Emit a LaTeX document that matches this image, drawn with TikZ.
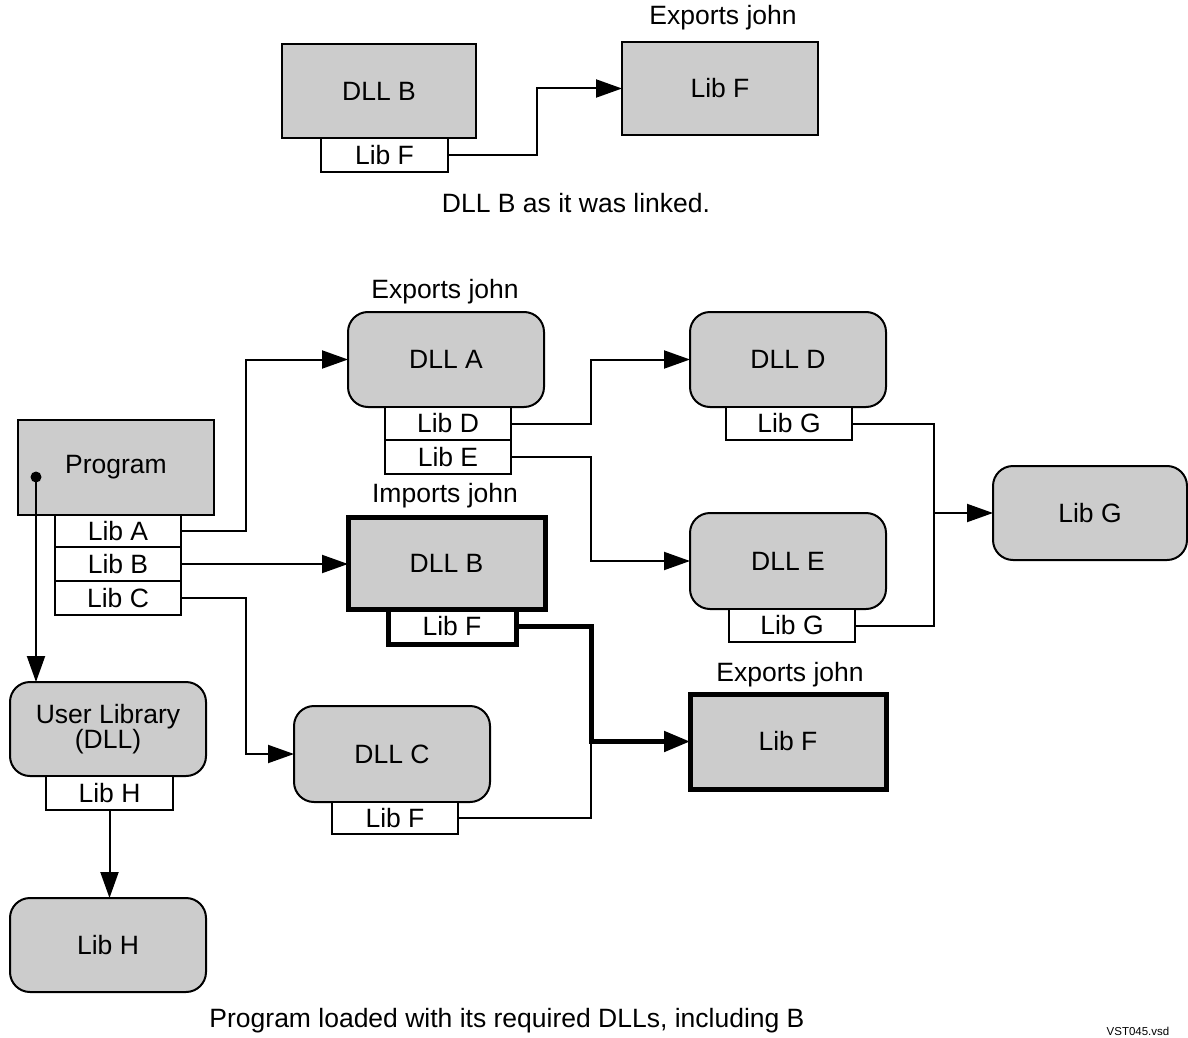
\documentclass[tikz,border=0pt]{standalone}
\usepackage{fontspec}
\setmainfont{Liberation Sans}
\usetikzlibrary{arrows.meta}
\definecolor{boxgray}{RGB}{204,204,204}
\begin{document}
\begin{tikzpicture}[x=1pt,y=-1pt,
  every node/.style={font=\fontsize{26.5}{24}\selectfont, inner sep=0pt, outer sep=0pt},
  gbox/.style={draw, fill=boxgray, line width=2pt, minimum width=196pt, minimum height=94pt},
  rbox/.style={gbox, rounded corners=20pt},
  heavy/.style={line width=5pt},
  lib/.style={draw, fill=white, line width=2pt, minimum width=126pt, minimum height=34pt},
  conn/.style={line width=2pt},
  arr/.style={conn, -{Triangle[length=26pt,width=18pt]}},
  label/.style={},
]
\useasboundingbox (0,0) rectangle (1188,1038);

% ---- DLL B as linked ----
\node[gbox, minimum width=194pt] (tB) at (379,91) {DLL B};
\node[lib, minimum width=127pt] (tLibF) at (384.5,155) {Lib F};
\node[gbox, minimum height=93pt] (tF) at (720,88.5) {Lib F};
\node[label] (tExp) at (723,18) {Exports john};
\node[label] (cap1) at (576,203) {DLL B as it was linked.};
\draw[arr] (tLibF.east) -- ++(89,0) |- (tF.west);

% ---- Program and its DLLs ----
\node[gbox, minimum height=95pt] (prog) at (116,467.5) {Program};
\node[lib, minimum height=32pt] (libA) at (118,531) {Lib A};
\node[lib] (libB) at (118,564) {Lib B};
\node[lib] (libC) at (118,598) {Lib C};

\node[rbox, minimum height=95pt] (dllA) at (446,359.5) {DLL A};
\node[label] (expA) at (445,292) {Exports john};
\node[lib, minimum height=33pt] (libD) at (448,423.5) {Lib D};
\node[lib] (libE) at (448,457) {Lib E};

\node[rbox, minimum height=95pt] (dllD) at (788,359.5) {DLL D};
\node[lib, minimum height=33pt] (libGd) at (789,423.5) {Lib G};

\node[rbox, minimum height=96pt] (dllE) at (788,561) {DLL E};
\node[lib, minimum height=33pt] (libGe) at (792,625.5) {Lib G};

\node[rbox, minimum width=194pt] (libG) at (1090,513) {Lib G};

\node[gbox, heavy, minimum width=197pt, minimum height=92pt] (dllB) at (446.5,563) {DLL B};
\node[label] (impB) at (445,496) {Imports john};
\node[lib, heavy, minimum width=128pt, minimum height=35pt] (libFb) at (452,626.5) {Lib F};

\node[gbox, heavy, minimum height=95pt] (libFx) at (788,741.5) {Lib F};
\node[label] (expF) at (790,675) {Exports john};

\node[rbox, minimum height=96pt] (dllC) at (392,754) {DLL C};
\node[lib, minimum height=32pt] (libFc) at (395,818) {Lib F};

\node[rbox, align=center] (user) at (108,729) {User Library\\(DLL)};
\node[lib, minimum width=127pt] (libHs) at (109.5,793) {Lib H};
\node[rbox] (libH) at (108,945) {Lib H};

\node[label] (cap2) at (507,1021) {Program loaded with its required DLLs, including B};
\node[font=\fontsize{11.5}{13}\selectfont] (fname) at (1138,1031) {VST045.vsd};

% ---- connectors ----
\coordinate (dot) at (36,477);
\fill (dot) circle (5.5pt);
\draw[arr] (dot) -- (dot |- user.north);

\draw[arr] (libA.east) -- ++(65,0) |- (dllA.west);
\draw[arr] (libB.east) -- (libB.east -| dllB.west);
\draw[arr] (libC.east) -- ++(65,0) |- (dllC.west);

\draw[arr] (libD.east) -- ++(80,0) |- (dllD.west);
\draw[arr] (libE.east) -- ++(80,0) |- (dllE.west);

\coordinate (gj) at (934,513);
\draw[conn] (libGd.east) -| (gj) |- (libGe.east);
\draw[arr] (gj) -- (libG.west);

\draw[heavy, -{Triangle[length=26pt,width=20pt]}] (libFb.east) -- ++(75,0) |- (libFx.west);
\draw[conn] (libFc.east) -- ++(133,0) -- ++(0,-76.5);

\draw[arr] (libHs.south) -- (libHs.south |- libH.north);
\end{tikzpicture}
\end{document}
